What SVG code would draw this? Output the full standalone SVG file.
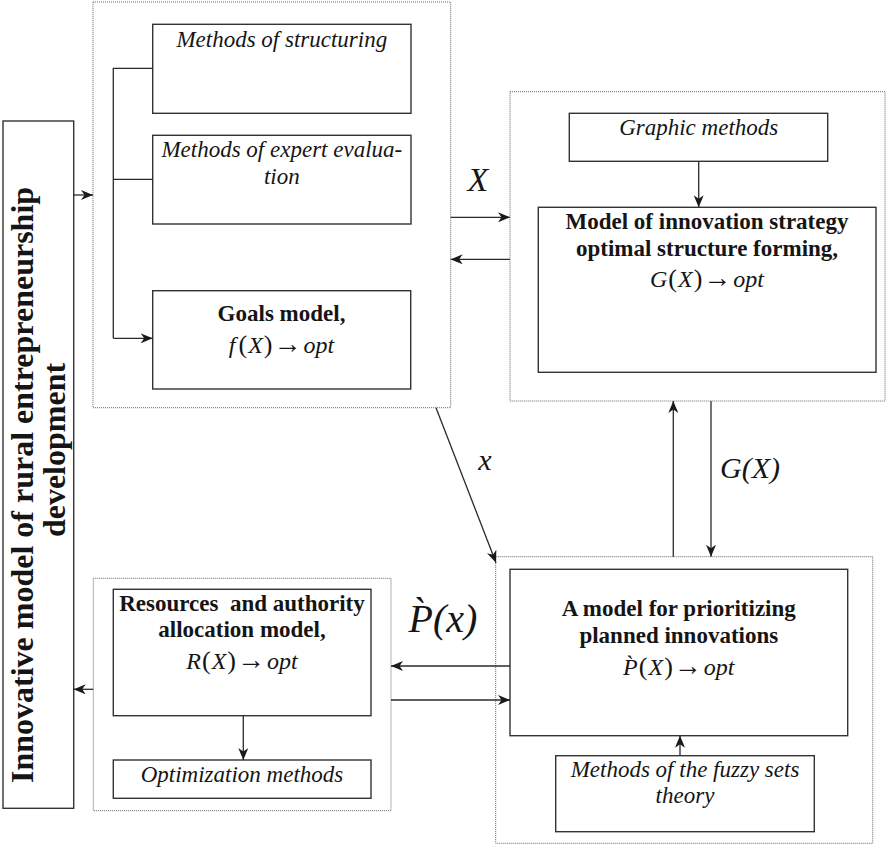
<svg xmlns="http://www.w3.org/2000/svg" width="887" height="848" viewBox="0 0 887 848">
  <defs>
    <marker id="arrow" viewBox="0 0 12 10" refX="12" refY="5" markerWidth="12" markerHeight="10" markerUnits="userSpaceOnUse" orient="auto">
      <path d="M0,0 L12,5 L0,10 L3.5,5 Z" fill="#1a1a1a"/>
    </marker>
    <style>
      .box { fill: #ffffff; stroke: #333333; stroke-width: 1.4; }
      .frame { fill: none; stroke: #666666; stroke-width: 1; stroke-dasharray: 1 1; }
      .wire { fill: none; stroke: #2a2a2a; stroke-width: 1.3; }
      .arr { fill: none; stroke: #2a2a2a; stroke-width: 1.3; marker-end: url(#arrow); }
      text { font-family: "Liberation Serif", "Times New Roman", serif; fill: #151515; }
      .it { font-size: 23px; font-style: italic; text-anchor: middle; }
      .bd { font-size: 23px; font-weight: bold; text-anchor: middle; }
      .fm { font-size: 24px; text-anchor: middle; }
      .i { font-style: italic; }
      .par { font-size: 26px; }
      .to { font-size: 28px; }
      .lbl { font-size: 30px; font-style: italic; text-anchor: middle; }
      .vt { font-size: 32px; font-weight: bold; text-anchor: middle; }
    </style>
  </defs>

  <rect width="887" height="848" fill="#ffffff"/>

  <!-- dotted group frames -->
  <g id="frames">
    <rect class="frame" x="93" y="2" width="357.7" height="405.7"/>
    <rect class="frame" x="510" y="91.7" width="375" height="309.3"/>
    <rect class="frame" x="495.7" y="556.7" width="377" height="286.6"/>
    <rect class="frame" x="93.3" y="578.3" width="297.7" height="232.4"/>
  </g>

  <!-- vertical title box -->
  <g id="node-innovative-model">
    <rect class="box" x="3" y="121" width="70.7" height="687.3"/>
    <text class="vt" transform="translate(33,485) rotate(-90)">Innovative model of rural entrepreneurship</text>
    <text class="vt" transform="translate(65,450) rotate(-90)">development</text>
  </g>

  <g id="node-structuring">
    <rect class="box" x="152.7" y="24.3" width="258.3" height="89"/>
    <text class="it" x="281.8" y="47">Methods of structuring</text>
  </g>

  <g id="node-expert">
    <rect class="box" x="152.7" y="135.3" width="258.3" height="88.7"/>
    <text class="it" x="281.8" y="157">Methods of expert evalua-</text>
    <text class="it" x="281.8" y="184">tion</text>
  </g>

  <g id="node-goals">
    <rect class="box" x="152.7" y="290.7" width="258" height="98.3"/>
    <text class="bd" x="281.5" y="321">Goals model,</text>
    <text class="fm" x="281.5" y="353"><tspan class="i">f</tspan><tspan class="par" dx="3">(</tspan><tspan class="i" dx="1">X</tspan><tspan class="par" dx="1">)</tspan><tspan class="to" dx="1">→</tspan><tspan class="i" dx="2">opt</tspan></text>
  </g>

  <g id="node-graphic">
    <rect class="box" x="569.3" y="113.3" width="258.4" height="48"/>
    <text class="it" x="698.7" y="135">Graphic methods</text>
  </g>

  <g id="node-structure-model">
    <rect class="box" x="538.3" y="207.3" width="337.7" height="165"/>
    <text class="bd" x="707" y="229">Model of innovation strategy</text>
    <text class="bd" x="707" y="256">optimal structure forming,</text>
    <text class="fm" x="707" y="287"><tspan class="i">G</tspan><tspan class="par" dx="1">(</tspan><tspan class="i" dx="1">X</tspan><tspan class="par" dx="1">)</tspan><tspan class="to" dx="1">→</tspan><tspan class="i" dx="2">opt</tspan></text>
  </g>

  <g id="node-prioritizing">
    <rect class="box" x="510" y="569.3" width="337.7" height="166.4"/>
    <text class="bd" x="678.8" y="616">A model for prioritizing</text>
    <text class="bd" x="678.8" y="643">planned innovations</text>
    <text class="fm" x="678.8" y="675"><tspan class="i">P&#x300;</tspan><tspan class="par" dx="1">(</tspan><tspan class="i" dx="1">X</tspan><tspan class="par" dx="1">)</tspan><tspan class="to" dx="1">→</tspan><tspan class="i" dx="2">opt</tspan></text>
  </g>

  <g id="node-fuzzy">
    <rect class="box" x="555.7" y="755.7" width="258.6" height="76"/>
    <text class="it" x="685" y="777">Methods of the fuzzy sets</text>
    <text class="it" x="685" y="803">theory</text>
  </g>

  <g id="node-resources">
    <rect class="box" x="113.3" y="589.3" width="257.7" height="126.4"/>
    <text class="bd" x="242" y="611" xml:space="preserve">Resources  and authority</text>
    <text class="bd" x="242" y="637">allocation model,</text>
    <text class="fm" x="242" y="669"><tspan class="i">R</tspan><tspan class="par" dx="1">(</tspan><tspan class="i" dx="1">X</tspan><tspan class="par" dx="1">)</tspan><tspan class="to" dx="1">→</tspan><tspan class="i" dx="2">opt</tspan></text>
  </g>

  <g id="node-optimization">
    <rect class="box" x="113.3" y="760" width="257.7" height="38.3"/>
    <text class="it" x="242" y="782">Optimization methods</text>
  </g>

  <!-- connectors -->
  <g id="connectors">
    <line class="arr" x1="73.7" y1="195" x2="93" y2="195"/>
    <polyline class="wire" points="152.7,68.3 113.3,68.3 113.3,338.3"/>
    <line class="wire" x1="113.3" y1="179.3" x2="152.7" y2="179.3"/>
    <line class="arr" x1="113.3" y1="338.3" x2="152.7" y2="338.3"/>
    <line class="arr" x1="450.7" y1="217.3" x2="510" y2="217.3"/>
    <line class="arr" x1="510" y1="259.3" x2="450.7" y2="259.3"/>
    <line class="arr" x1="698.7" y1="161.3" x2="698.7" y2="207.3"/>
    <line class="arr" x1="673.3" y1="556.7" x2="673.3" y2="401"/>
    <line class="arr" x1="711" y1="401" x2="711" y2="556.7"/>
    <line class="arr" x1="436" y1="407.7" x2="496" y2="562.7"/>
    <line class="arr" x1="510" y1="666" x2="391" y2="666"/>
    <line class="arr" x1="391" y1="700" x2="510" y2="700"/>
    <line class="arr" x1="680" y1="755.7" x2="680" y2="735.7"/>
    <line class="arr" x1="243.3" y1="715.7" x2="243.3" y2="760"/>
    <line class="arr" x1="93.3" y1="689.3" x2="73.7" y2="689.3"/>
  </g>

  <!-- connector labels -->
  <g id="labels">
    <text class="lbl" x="478" y="191" style="font-size:34px">X</text>
    <text class="lbl" x="485" y="470">x</text>
    <text class="lbl" x="750" y="478">G(X)</text>
    <text class="lbl" x="443" y="632" style="font-size:40px">P&#x300;(x)</text>
  </g>
</svg>
